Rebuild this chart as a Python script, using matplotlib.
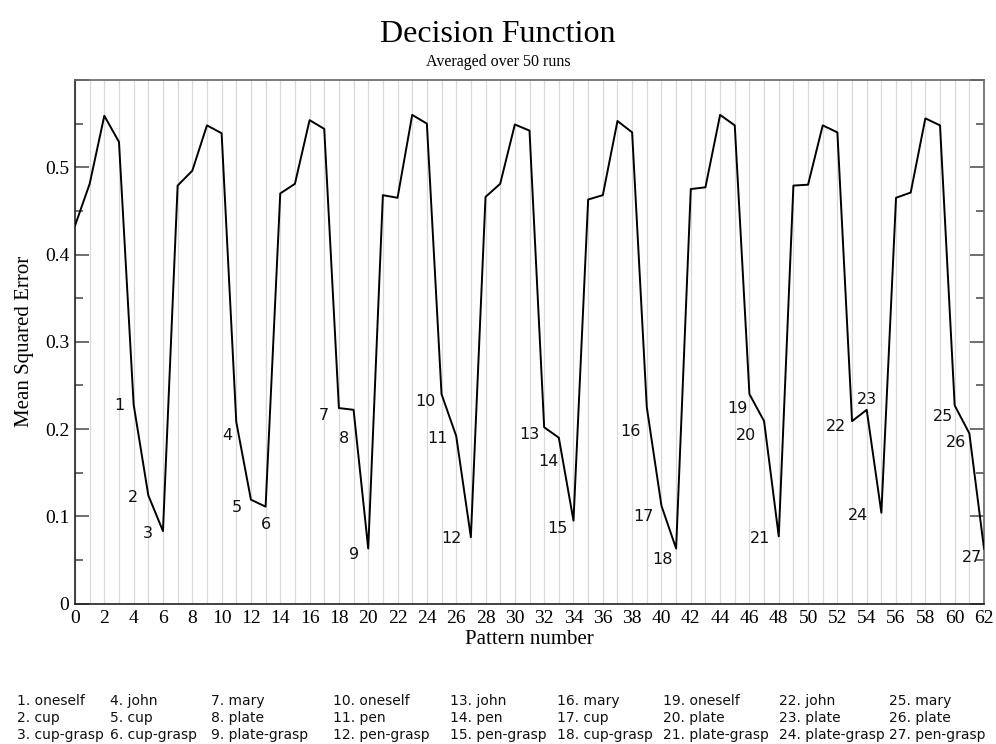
import matplotlib
matplotlib.use("Agg")
import matplotlib.pyplot as plt
from matplotlib.ticker import MultipleLocator

# ---- data ----
pattern = list(range(63))
mse = [0.433, 0.481, 0.559, 0.529, 0.228, 0.124, 0.083,
       0.479, 0.496, 0.548, 0.539, 0.208, 0.119, 0.111,
       0.470, 0.481, 0.554, 0.544, 0.224, 0.222, 0.063,
       0.468, 0.465, 0.560, 0.550, 0.240, 0.192, 0.076,
       0.466, 0.481, 0.549, 0.542, 0.202, 0.190, 0.095,
       0.463, 0.468, 0.553, 0.540, 0.225, 0.112, 0.063,
       0.475, 0.477, 0.560, 0.548, 0.240, 0.209, 0.077,
       0.479, 0.480, 0.548, 0.540, 0.209, 0.222, 0.104,
       0.465, 0.471, 0.556, 0.548, 0.227, 0.195, 0.063]

label_ids = [str(i) for i in range(1, 28)]
label_x = [3.0, 3.96, 4.98, 10.4, 11.05, 13.0, 17.0, 18.35, 19.0,
           23.9, 24.7, 25.7, 31.0, 32.3, 32.9, 37.9, 38.8, 40.1,
           45.2, 45.8, 46.7, 51.9, 54.0, 53.4, 59.2, 60.1, 61.2]
label_y = [0.227, 0.122, 0.080, 0.193, 0.110, 0.091, 0.216, 0.189, 0.056,
           0.232, 0.189, 0.075, 0.194, 0.163, 0.086, 0.197, 0.100, 0.051,
           0.224, 0.192, 0.074, 0.203, 0.234, 0.101, 0.2145, 0.185, 0.053]

legend_items = ["oneself", "cup", "cup-grasp", "john", "cup", "cup-grasp",
                "mary", "plate", "plate-grasp", "oneself", "pen", "pen-grasp",
                "john", "pen", "pen-grasp", "mary", "cup", "cup-grasp",
                "oneself", "plate", "plate-grasp", "john", "plate", "plate-grasp",
                "mary", "plate", "pen-grasp"]
legend_col_px = [17, 110, 211, 333, 450, 557, 663, 779, 889]

title = "Decision Function"
subtitle = "Averaged over 50 runs"
xlabel = "Pattern number"
ylabel = "Mean Squared Error"

# ---- figure ----
W, H = 996, 744
fig = plt.figure(figsize=(W / 100, H / 100), dpi=100)
ax = fig.add_axes([75 / W, 1 - 603.5 / H, (984 - 75) / W, (603.5 - 80) / H])

serif = "Liberation Serif"
sans = "DejaVu Sans"

ax.plot(pattern, mse, color="black", linewidth=1.4, zorder=3)
for t, x, y in zip(label_ids, label_x, label_y):
    ax.text(x, y, t, ha="center", va="center", fontsize=11.5,
            family=sans, color="#111111", zorder=4)

ax.set_xlim(0, 62)
ax.set_ylim(0, 0.6)
ax.xaxis.set_major_locator(MultipleLocator(2))
ax.xaxis.set_minor_locator(MultipleLocator(1))
ax.yaxis.set_major_locator(MultipleLocator(0.1))
ax.yaxis.set_minor_locator(MultipleLocator(0.05))
ax.grid(True, axis="x", which="both", color="#d9d9d9", linewidth=0.9, zorder=0)
ax.grid(False, axis="y")

ax.tick_params(axis="x", which="both", length=0, pad=5, labelsize=14)
ax.tick_params(axis="y", which="major", direction="in", length=10, width=1.2,
               color="#555555", right=True, left=True, labelsize=14, pad=4)
ax.tick_params(axis="y", which="minor", direction="in", length=6, width=1.2,
               color="#555555", right=True, left=True)
for lbl in ax.get_xticklabels() + ax.get_yticklabels():
    lbl.set_family(serif)

def yfmt(v, pos):
    if abs(v) < 1e-9:
        return "0"
    if v > 0.55:
        return ""
    return f"{v:.1f}"
ax.yaxis.set_major_formatter(plt.FuncFormatter(yfmt))

ax.spines["left"].set_color("#222222")
ax.spines["bottom"].set_color("#222222")
ax.spines["top"].set_color("#666666")
ax.spines["right"].set_color("#666666")
for s in ax.spines.values():
    s.set_linewidth(1.2)

ax.set_xlabel(xlabel, fontsize=15, family=serif, labelpad=2)
ax.set_ylabel(ylabel, fontsize=15, family=serif, labelpad=8)

fig.text(0.5, 1 - 35 / H, title, ha="center", va="center", fontsize=23, family=serif)
fig.text(0.5, 1 - 62 / H, subtitle, ha="center", va="center", fontsize=11.5, family=serif)

row_y = [701, 718, 735]
for i, item in enumerate(legend_items):
    col = i // 3
    row = i % 3
    fig.text(legend_col_px[col] / W, 1 - row_y[row] / H, f"{i + 1}. {item}",
             ha="left", va="center", fontsize=10, family=sans, color="#111111")

fig.savefig("out.png", dpi=100)
